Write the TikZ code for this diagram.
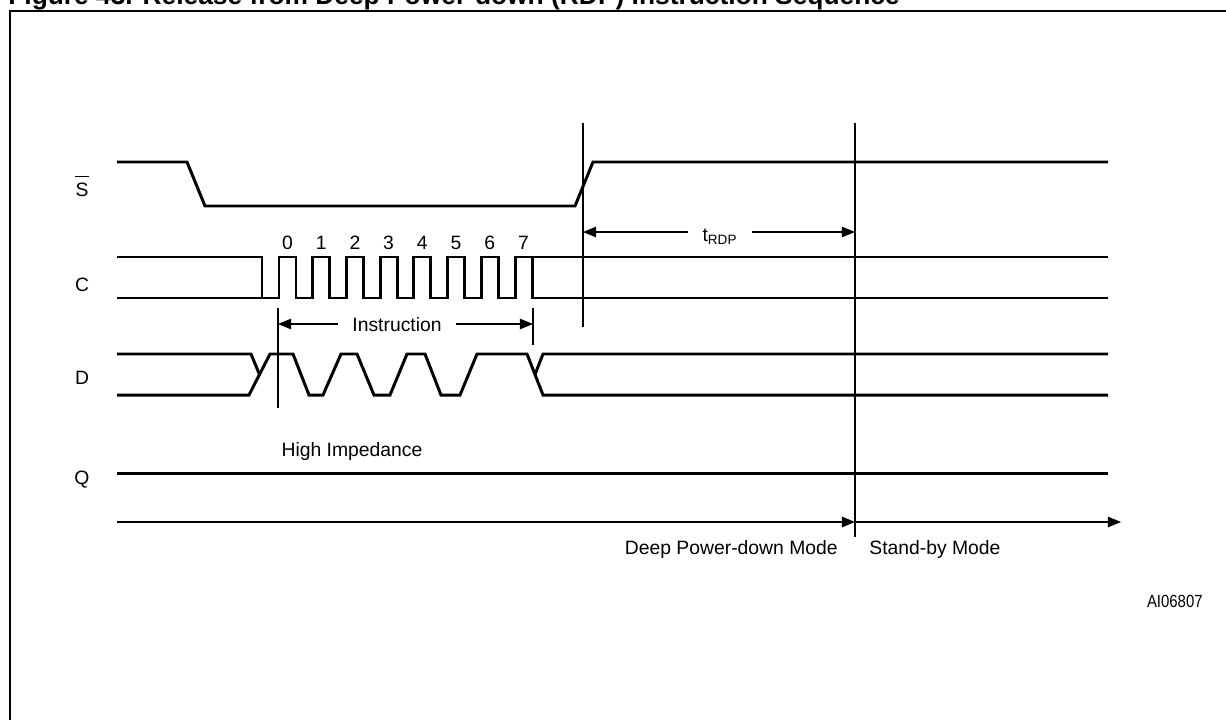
\documentclass[tikz,border=0pt]{standalone}
\usepackage{fontspec}
\setmainfont{Liberation Sans}
\newfontfamily\narrowfont[FakeStretch=0.85]{Liberation Sans}
\usetikzlibrary{arrows.meta}

\begin{document}
\begin{tikzpicture}[line join=miter,x=0.02cm,y=-0.02cm,>={Triangle[length=7.5pt,width=6pt]},
  sig/.style={line width=1.7pt},
  guide/.style={line width=0.6pt},
  lbl/.style={inner sep=0pt,font=\fontsize{11}{13}\selectfont}]
\useasboundingbox (0,0) rectangle (1226,720);
\node[anchor=base west,inner sep=0pt,font=\fontsize{15}{18}\selectfont\bfseries] (title) at (8,5) {Figure 43. Release from Deep Power-down (RDP) Instruction Sequence};
\draw[line width=1.4pt] (10,720) -- (10,11) -- (1226,11);

\node[lbl] (nS) at (82,190) {S};
\draw[guide] ([yshift=3.4pt]nS.north west) -- ([yshift=3.4pt]nS.north east);
\node[lbl] (nC) at (82,285) {C};
\node[lbl] (nD) at (82,378) {D};
\node[lbl] (nQ) at (82,480) {Q};

\draw[sig] (117,162) -- (187,162) -- (205,206) -- (575,206) -- (593,162) -- (1108,162);

\draw[sig] (117,257) -- (262,257) -- (262,298);
\draw[sig] (117,298) foreach \k in {0,...,6} { -- ({279+33.7*\k},298) -- ({279+33.7*\k},257) -- ({296+33.7*\k},257) -- ({296+33.7*\k},298) } -- (515,298) -- (515,257) -- (1108,257);
\draw[sig] (532,257) -- (532,298) -- (1108,298);
\foreach \k in {0,...,7}
  \node[lbl] (bit\k) at ({287.5+33.7*\k},243) {\k};

\draw[sig] (117,354) -- (251,354) -- (259.5,374.5);
\draw[sig] (117,395) -- (249,395) -- (270,354) -- (293,354) -- (309,395) -- (323,395) -- (341,354) -- (357,354) -- (374,395) -- (390,395) -- (407,354) -- (425,354) -- (441,395) -- (460,395) -- (477,354) -- (527,354) -- (543,395) -- (1108,395);
\draw[sig] (535,374.5) -- (543,354) -- (1108,354);

\draw[sig] (117,473) -- (1108,473);
\node[lbl] (hiz) at (352,451) {High Impedance};

\draw[guide] (583,123) -- (583,327);
\draw[guide] (855,123) -- (855,537);
\draw[guide] (278,308) -- (278,408);
\draw[guide] (533,308) -- (533,345);

\coordinate (rdpL) at (583,232);
\coordinate (rdpR) at (855,232);
\node[lbl,inner xsep=8pt] (trdp) at (720,237) {t\textsubscript{RDP}};
\draw[guide,<-] (rdpL) -- (rdpL -| trdp.west);
\draw[guide,->] (rdpR -| trdp.east) -- (rdpR);

\coordinate (insL) at (278,324);
\coordinate (insR) at (533,324);
\node[lbl,inner xsep=8pt] (instr) at (397,325) {Instruction};
\draw[guide,<-] (insL) -- (insL -| instr.west);
\draw[guide,->] (insR -| instr.east) -- (insR);

\coordinate (m0) at (117,522);
\coordinate (m1) at (855,522);
\coordinate (m2) at (1121,522);
\draw[guide,->] (m0) -- (m1);
\draw[guide,->] (m1) -- (m2);
\node[lbl,anchor=east] (dpd) at (838,549) {Deep Power-down Mode};
\node[lbl,anchor=west] (stby) at (869,549) {Stand-by Mode};
\node[anchor=east,inner sep=0pt,font=\narrowfont\fontsize{10}{12}\selectfont] (fig) at (1203,601) {AI06807};
\end{tikzpicture}
\end{document}
